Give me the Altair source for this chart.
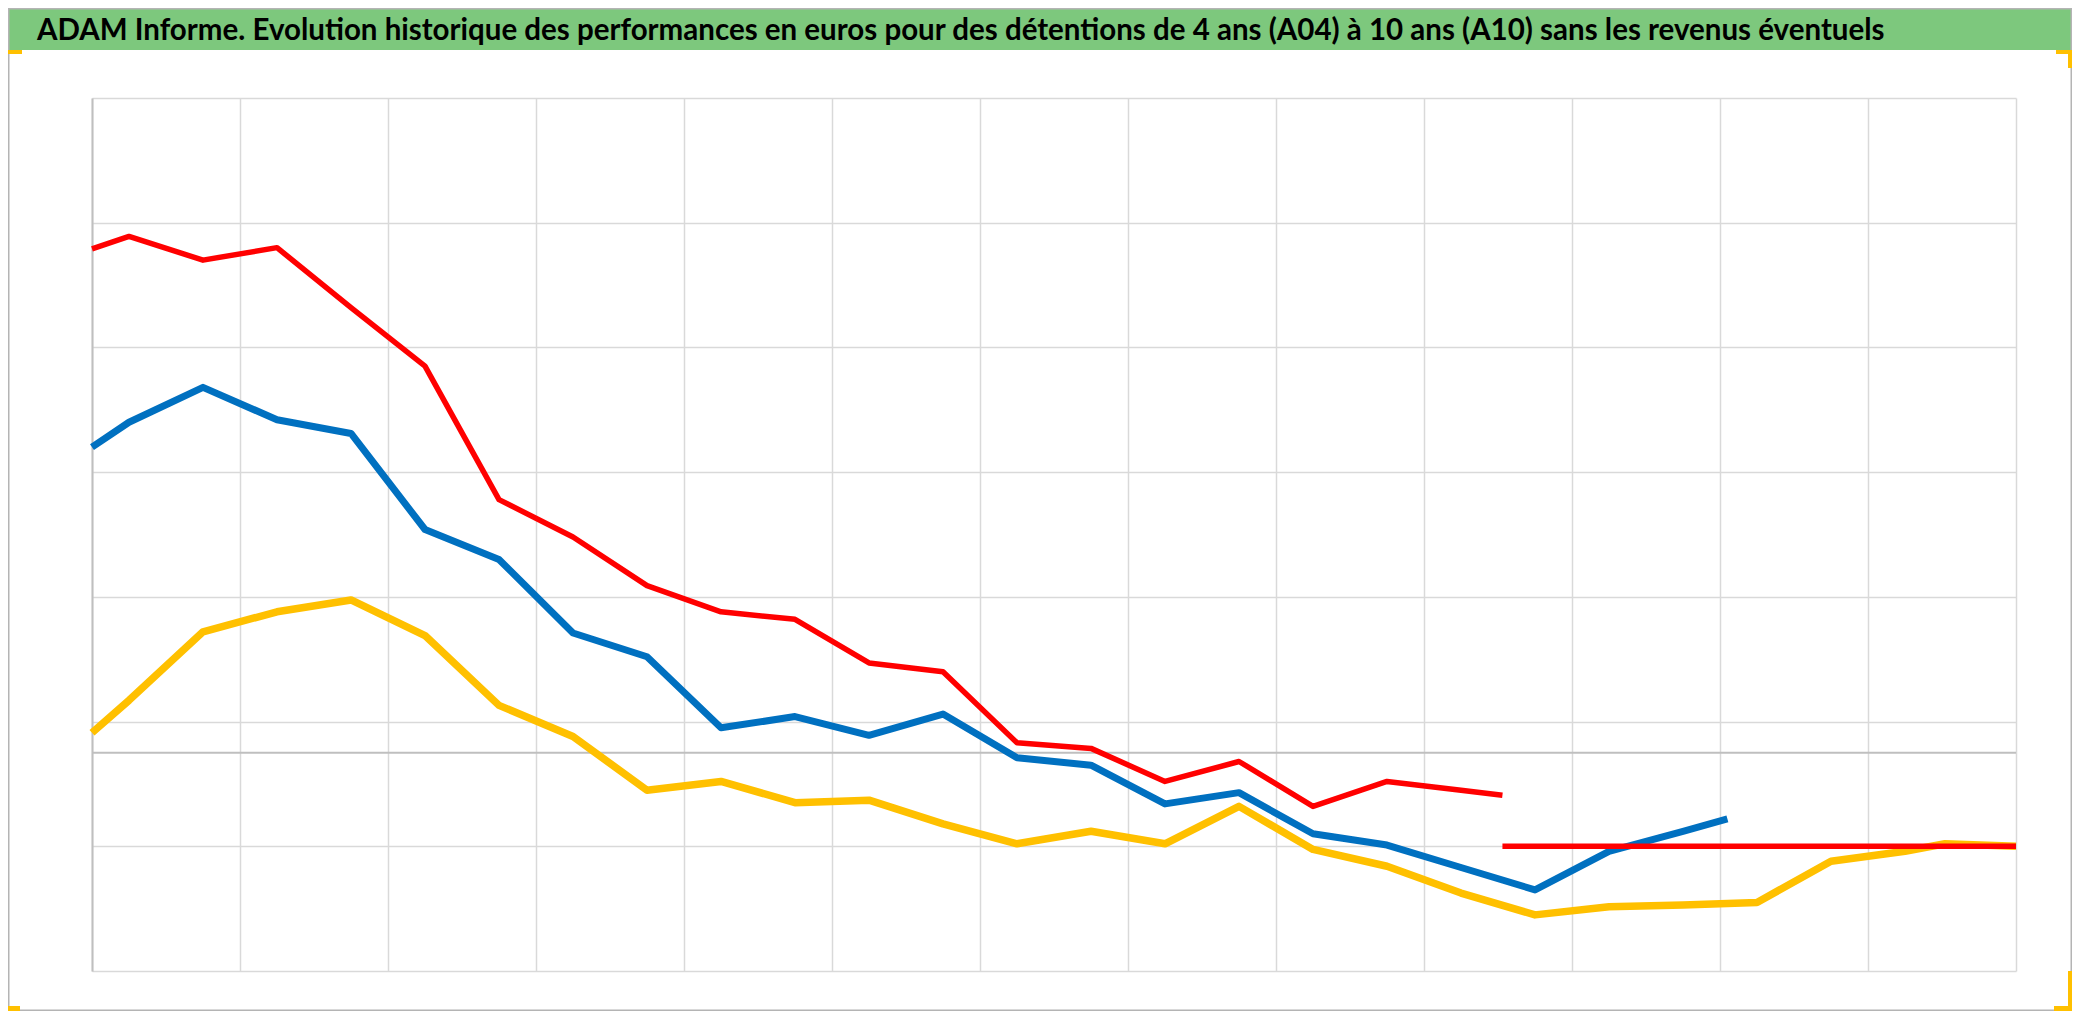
import altair as alt
import pandas as pd

TITLE = ("ADAM Informe. Evolution historique des performances en euros pour des "
         "détentions de 4 ans (A04) à 10 ans (A10) sans les revenus éventuels")

# x positions in years from the start of the axis (13 yearly gridlines)
x_a10 = [0, 0.25, 0.75, 1.25, 1.75, 2.25, 2.75, 3.25, 3.75, 4.25, 4.75, 5.25, 5.75,
         6.25, 6.75, 7.25, 7.75, 8.25, 8.75, 9.25, 9.53]
y_a10 = [40.4, 41.4, 39.5, 40.5, 35.7, 31.0, 20.3, 17.3, 13.4, 11.3, 10.7, 7.2, 6.5,
         0.8, 0.35, -2.3, -0.7, -4.3, -2.3, -3.0, -3.4]

x_a07 = [0, 0.25, 0.75, 1.25, 1.75, 2.25, 2.75, 3.25, 3.75, 4.25, 4.75, 5.25, 5.75,
         6.25, 6.75, 7.25, 7.75, 8.25, 8.75, 9.25, 9.75, 10.25, 10.75, 11.05]
y_a07 = [24.5, 26.5, 29.3, 26.7, 25.6, 17.9, 15.5, 9.6, 7.7, 2.0, 2.9, 1.4, 3.1,
         -0.4, -1.0, -4.1, -3.2, -6.5, -7.4, -9.2, -11.0, -7.9, -6.3, -5.3]

x_a04 = [0, 0.25, 0.75, 1.25, 1.75, 2.25, 2.75, 3.25, 3.75, 4.25, 4.75, 5.25, 5.75,
         6.25, 6.75, 7.25, 7.75, 8.25, 8.75, 9.25, 9.75, 10.25, 10.75, 11.25, 11.75,
         12.25, 12.52, 13.0]
y_a04 = [1.6, 4.2, 9.7, 11.3, 12.25, 9.4, 3.8, 1.3, -3.0, -2.3, -4.0, -3.8, -5.7,
         -7.3, -6.3, -7.3, -4.3, -7.75, -9.1, -11.25, -13.0, -12.35, -12.2, -12.0, -8.7,
         -7.9, -7.3, -7.5]

x_flat = [9.53, 13.0]
y_flat = [-7.5, -7.5]

y_ticks = [-17.5, -7.5, 2.5, 12.5, 22.5, 32.5, 42.5, 52.5]
x_ticks = list(range(0, 14))

W, H = 1924, 873
PL, PT, PR, PB = 84, 90, 56, 40

df = pd.concat([
    pd.DataFrame({"x": x_a04, "y": y_a04, "serie": "A04"}),
    pd.DataFrame({"x": x_a07, "y": y_a07, "serie": "A07"}),
    pd.DataFrame({"x": x_a10, "y": y_a10, "serie": "A10"}),
    pd.DataFrame({"x": x_flat, "y": y_flat, "serie": "A10b"}),
], ignore_index=True)

xs = alt.Scale(domain=[0, 13], nice=False, zero=False)
ys = alt.Scale(domain=[-17.5, 52.5], nice=False, zero=False)

X = alt.X("x:Q", scale=xs, axis=alt.Axis(values=x_ticks, labels=False, ticks=False,
                                          domain=False, title=None, grid=True))
Y = alt.Y("y:Q", scale=ys, axis=alt.Axis(values=y_ticks, labels=False, ticks=False,
                                          domain=True, domainColor="#bfbfbf", domainWidth=2,
                                          title=None, grid=True))

base = alt.Chart(df)

def serie_line(name, color, width):
    return base.transform_filter(alt.datum.serie == name).mark_line(
        color=color, strokeWidth=width, strokeJoin="round", strokeCap="butt"
    ).encode(x=X, y=Y, order="x:Q")

one = pd.DataFrame({"a": [0]})

zero_rule = alt.Chart(one).mark_rule(color="#bfbfbf", strokeWidth=2).encode(y=alt.datum(0))

green = alt.Chart(one).mark_rect(color="#7dc87d").encode(
    x=alt.value(-PL), x2=alt.value(W + PR), y=alt.value(-PT), y2=alt.value(-48))

title = alt.Chart(one).mark_text(
    align="left", baseline="alphabetic", font="Lato",
    fontWeight="bold", fontSize=29.5, color="#000000"
).encode(x=alt.value(-55), y=alt.value(-58), text=alt.value(TITLE))

frame = alt.Chart(one).mark_rect(fill=None, stroke="#b4b4b4", strokeWidth=1.5).encode(
    x=alt.value(-PL + 0.75), x2=alt.value(W + PR - 0.75),
    y=alt.value(-PT + 0.75), y2=alt.value(H + PB - 0.75))

def handle(x0, x1, y0, y1):
    return alt.Chart(one).mark_rect(color="#ffc000").encode(
        x=alt.value(x0), x2=alt.value(x1), y=alt.value(y0), y2=alt.value(y1))

handles = [
    handle(-PL, -PL + 14, -48, -44),
    handle(W + PR - 16, W + PR, -48, -44),
    handle(W + PR - 4, W + PR, -48, -30),
    handle(-PL, -PL + 12, H + PB - 5, H + PB),
    handle(W + PR - 4, W + PR, H + PB - 40, H + PB),
    handle(W + PR - 18, W + PR, H + PB - 5, H + PB),
]

chart = alt.layer(
    green, frame, *handles, title, zero_rule,
    serie_line("A04", "#ffc000", 7.5),
    serie_line("A07", "#0070c0", 7),
    serie_line("A10", "#ff0000", 5.5),
    serie_line("A10b", "#ff0000", 5.5),
).properties(
    width=W, height=H,
    autosize=alt.AutoSizeParams(type="none"),
    padding={"left": PL, "top": PT, "right": PR, "bottom": PB},
    background="#ffffff",
).configure_view(stroke=None).configure_axis(
    gridColor="#d9d9d9", gridWidth=1.5
)

chart.save("out.html", embed_options={"renderer": "svg", "actions": False})
